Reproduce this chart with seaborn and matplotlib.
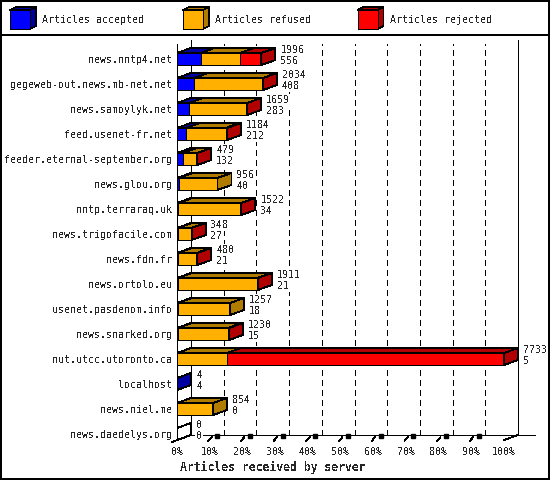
import numpy as np
import pandas as pd
import matplotlib
matplotlib.use("Agg")
import matplotlib.pyplot as plt
import seaborn as sns
from matplotlib.patches import Rectangle, Polygon

# ---------------- data ----------------
servers = [
    "news.nntp4.net", "gegeweb-out.news.mb-net.net", "news.samoylyk.net",
    "feed.usenet-fr.net", "feeder.eternal-september.org", "news.glou.org",
    "nntp.terraraq.uk", "news.trigofacile.com", "news.fdn.fr", "news.ortolo.eu",
    "usenet.pasdenom.info", "news.snarked.org", "nut.utcc.utoronto.ca",
    "localhost", "news.niel.me", "news.daedelys.org",
]
accepted = [556, 408, 283, 212, 132, 40, 34, 27, 21, 21, 18, 15, 5, 4, 0, 0]
refused = [935, 1620, 1370, 937, 340, 916, 1480, 311, 440, 1880, 1239, 1185, 1175, 0, 854, 0]
rejected = [505, 6, 6, 35, 7, 0, 8, 10, 19, 10, 0, 30, 6553, 0, 0, 0]
tick_labels = ["0%", "10%", "20%", "30%", "40%", "50%", "60%", "70%", "80%", "90%", "100%"]
legend_labels = ["Articles accepted", "Articles refused", "Articles rejected"]
x_title = "Articles received by server"

# ---------------- style ----------------
sns.set_style("white")
FONT = "DejaVu Sans Mono"
plt.rcParams["font.family"] = [FONT, "DejaVu Sans"]
plt.rcParams["text.antialiased"] = False
plt.rcParams["lines.antialiased"] = False
plt.rcParams["patch.antialiased"] = False
FS = 7.2

BLUE, BLUE_D = "#0000ff", "#0000a0"
ORANGE, ORANGE_D = "#ffb000", "#b07c00"
RED, RED_D = "#ff0000", "#b00000"
LW = 0.6

W, H = 550, 480
fig = plt.figure(figsize=(W / 100, H / 100), dpi=100)
fig.patch.set_facecolor("white")

acc = np.array(accepted, dtype=float)
ref = np.array(refused, dtype=float)
rej = np.array(rejected, dtype=float)
tot = acc + ref + rej
vmax = tot.max()

# pixel geometry of the pseudo-3D frame
X0, X100 = 177, 504
ROW0, ROWH = 59, 25
BH = 12
DX, DY = 14, 5
S = vmax / (X100 - X0)


def xd(px):
    return (px - X0) * S


def yd(py):
    return (py - ROW0) / ROWH


# decoration axes (whole figure, pixel coordinates)
deco = fig.add_axes([0, 0, 1, 1])
deco.set_xlim(0, W)
deco.set_ylim(H, 0)
deco.axis("off")
deco.add_patch(Rectangle((0.8, 0.8), W - 1.6, H - 1.6, fill=False, lw=1.4, ec="black"))
deco.plot([0, W], [35, 35], color="black", lw=1.4)

# legend cubes
for lx, lab, c, cd in zip([10, 183, 357.5], legend_labels,
                          [BLUE, ORANGE, RED], [BLUE_D, ORANGE_D, RED_D]):
    x1, y1, x2, y2 = lx, 10, lx + 20, 29
    d, e = 6, 3
    deco.add_patch(Polygon([(x1, y1), (x2, y1), (x2 + d, y1 - e), (x1 + d, y1 - e)],
                           closed=True, fc=cd, ec="black", lw=LW))
    deco.add_patch(Polygon([(x2, y1), (x2, y2), (x2 + d, y2 - e), (x2 + d, y1 - e)],
                           closed=True, fc=cd, ec="black", lw=LW))
    deco.add_patch(Rectangle((x1, y1), 20, 19, fc=c, ec="black", lw=LW))
    deco.text(lx + 32, 20, lab, fontsize=FS, va="center", ha="left", family=FONT)

deco.text(180, 467, x_title, fontsize=8.3, fontweight="bold", va="center",
          ha="left", family=FONT)

# main axes
AX_L, AX_R, AX_T, AX_B = 177, 536, 40, 442
ax = fig.add_axes([AX_L / W, 1 - AX_B / H, (AX_R - AX_L) / W, (AX_B - AX_T) / H])
ax.patch.set_alpha(0)

df = pd.DataFrame({"server": servers, "acc": acc, "acc_ref": acc + ref, "total": tot})
wid = BH / ROWH
for col, c in [("total", RED), ("acc_ref", ORANGE), ("acc", BLUE)]:
    sns.barplot(data=df, x=col, y="server", color=c, saturation=1, width=wid,
                edgecolor="black", linewidth=LW, errorbar=None, orient="h", ax=ax,
                zorder=3)

ax.set_xlim(0, xd(AX_R))
ax.set_ylim(yd(AX_B), yd(AX_T))
for sp in ax.spines.values():
    sp.set_visible(False)
ax.set_xlabel("")
ax.set_ylabel("")

dxd = DX * S
dyd = DY / ROWH
ytop_px_back = 40
floor_back = 435

# back wall lines and grid
ax.plot([dxd, dxd], [yd(ytop_px_back), yd(floor_back)], color="black", lw=LW, zorder=1)
ax.plot([vmax + dxd, vmax + dxd], [yd(ytop_px_back), yd(floor_back)], color="black", lw=LW, zorder=1)
for k in range(1, 10):
    gx = vmax * k / 10 + dxd
    ln, = ax.plot([gx, gx], [yd(floor_back), yd(44)], color="black", lw=LW, zorder=1)
    ln.set_dashes((7, 5))
# front left axis
ax.plot([0, 0], [yd(44), yd(440)], color="black", lw=LW, zorder=4, clip_on=False)
# floor
ax.plot([dxd, xd(535)], [yd(floor_back), yd(floor_back)], color="black", lw=LW, zorder=1, clip_on=False)
ax.plot([xd(172), dxd], [yd(442), yd(floor_back)], color="black", lw=LW, zorder=1, clip_on=False)
ax.plot([vmax, vmax + dxd], [yd(440), yd(floor_back)], color="black", lw=LW, zorder=1, clip_on=False)
# little 3D ticks
for k in range(1, 10):
    fx = vmax * k / 10
    ax.plot([fx - 1.5 * S, fx + 2 * S], [yd(441), yd(437)], color="black", lw=LW, zorder=1, clip_on=False)
    ax.plot([fx + 7.5 * S], [yd(436)], marker="s", ms=2.4, color="black", zorder=1, clip_on=False)

# 3D faces of bars
half = BH / ROWH / 2
box = dict(fc="white", ec="none", pad=0.6)
for i in range(len(servers)):
    yt, yb = i - half, i + half
    segs = [(0, acc[i], BLUE_D), (acc[i], acc[i] + ref[i], ORANGE_D),
            (acc[i] + ref[i], tot[i], RED_D)]
    last = "white"
    for a, b, cd in segs:
        if b > a:
            ax.add_patch(Polygon([(a, yt), (b, yt), (b + dxd, yt - dyd), (a + dxd, yt - dyd)],
                                 closed=True, fc=cd, ec="black", lw=LW, zorder=3))
            last = cd
    t = tot[i]
    ax.add_patch(Polygon([(t, yt), (t, yb), (t + dxd, yb - dyd), (t + dxd, yt - dyd)],
                         closed=True, fc=last, ec="black", lw=LW, zorder=3))
    ax.text(t + dxd + 5 * S, i - 9 / ROWH, f"{int(t)}", fontsize=FS, va="center",
            ha="left", family=FONT, zorder=5, bbox=box)
    ax.text(t + dxd + 5 * S, i + 2 / ROWH, f"{int(acc[i])}", fontsize=FS, va="center",
            ha="left", family=FONT, zorder=5, bbox=box)

# tick labels
ax.set_xticks([vmax * k / 10 for k in range(11)])
ax.set_xticklabels(tick_labels, family=FONT, fontsize=FS)
ax.tick_params(axis="x", length=0, pad=3.5)
ax.tick_params(axis="y", length=0, pad=3.6)
for lab in ax.get_yticklabels():
    lab.set_family(FONT)
    lab.set_fontsize(FS)

fig.savefig("out.png", dpi=100)
